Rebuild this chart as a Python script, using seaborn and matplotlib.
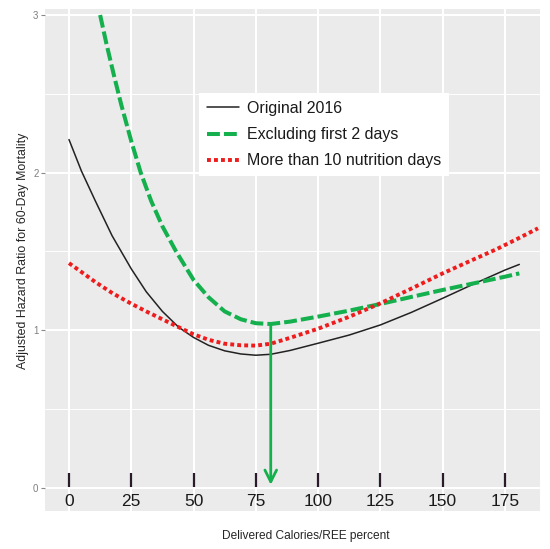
import matplotlib
matplotlib.use("Agg")
import matplotlib.pyplot as plt
import seaborn as sns
import pandas as pd

# ---- data ----
x_original = [0, 5, 10.6, 17.3, 25, 31, 37.5, 44, 50, 56, 62.5, 69, 75, 81, 88.7,
              100, 112.5, 125, 137.5, 150, 162.5, 175, 180.8]
y_original = [2.21, 2.01, 1.82, 1.60, 1.39, 1.245, 1.12, 1.02, 0.955, 0.905, 0.87, 0.85,
              0.842, 0.848, 0.872, 0.918, 0.97, 1.034, 1.114, 1.203, 1.294, 1.382, 1.418]

x_excluding = [12.5, 15, 18, 21, 25, 28.8, 33, 37.5, 43, 50, 56, 62.5, 69, 75, 81, 88.7,
               100, 112.5, 125, 137.5, 150, 162.5, 175, 180.8]
y_excluding = [3.0, 2.82, 2.62, 2.43, 2.2, 2.0, 1.82, 1.66, 1.5, 1.32, 1.21, 1.12, 1.07,
               1.045, 1.04, 1.055, 1.087, 1.125, 1.167, 1.212, 1.256, 1.298, 1.34, 1.361]

x_more10 = [0, 5, 10.6, 17.5, 25, 31, 37.5, 44, 50, 56, 62.5, 69, 75, 81, 88.7, 100,
            112.5, 125, 137.5, 150, 162.5, 171.7, 180, 188.3]
y_more10 = [1.426, 1.37, 1.306, 1.235, 1.169, 1.12, 1.07, 1.02, 0.975, 0.94, 0.915, 0.905,
            0.903, 0.915, 0.952, 1.01, 1.086, 1.171, 1.265, 1.361, 1.45, 1.515, 1.58, 1.647]

series_labels = ["Original 2016", "Excluding first 2 days", "More than 10 nutrition days"]
xtick_values = [0, 25, 50, 75, 100, 125, 150, 175]
ytick_values = [0, 1, 2, 3]
ytick_minor = [0.5, 1.5, 2.5]
optimal_x = 81
optimal_y = 1.04

x_title = "Delivered Calories/REE percent"
y_title = "Adjusted Hazard Ratio for 60-Day Mortality"

# ---- figure ----
sns.set_theme(style="darkgrid")
plt.rcParams["font.family"] = ["Liberation Sans", "DejaVu Sans"]

W, H = 550, 549
fig = plt.figure(figsize=(5.5, 5.49), dpi=100)
fig.patch.set_facecolor("white")
ax = fig.add_axes([45 / W, 1 - 511 / H, 495 / W, 502 / H])
ax.set_facecolor("#EBEBEB")

GREEN = "#14B04E"
RED = "#EE1C1C"

df_o = pd.DataFrame({"x": x_original, "y": y_original})
df_e = pd.DataFrame({"x": x_excluding, "y": y_excluding})
df_m = pd.DataFrame({"x": x_more10, "y": y_more10})

sns.lineplot(data=df_o, x="x", y="y", ax=ax, color="#222222", lw=1.1,
             label=series_labels[0], sort=False, estimator=None, zorder=3)
sns.lineplot(data=df_e, x="x", y="y", ax=ax, color=GREEN, lw=2.9,
             ls=(0, (3.2, 1.0)), dash_capstyle="butt",
             label=series_labels[1], sort=False, estimator=None, zorder=4)
sns.lineplot(data=df_m, x="x", y="y", ax=ax, color=RED, lw=2.8,
             ls=(0, (1, 0.8)), dash_capstyle="butt",
             label=series_labels[2], sort=False, estimator=None, zorder=5)

# arrow marking optimum
ax.annotate("", xy=(optimal_x, 0.02), xytext=(optimal_x, optimal_y),
            arrowprops=dict(arrowstyle="->,head_length=0.6,head_width=0.3",
                            color=GREEN, lw=2.0, mutation_scale=14,
                            shrinkA=0, shrinkB=0), zorder=6)

ax.set_xlim(-9.63, 189.1)
ax.set_ylim(-0.146, 3.038)

# grid
ax.set_xticks(xtick_values)
ax.set_yticks(ytick_values)
ax.set_yticks(ytick_minor, minor=True)
ax.grid(True, which="major", color="white", lw=1.5)
ax.grid(True, which="minor", axis="y", color="white", lw=0.7)
ax.grid(False, which="minor", axis="x")
ax.tick_params(axis="x", which="both", length=0, labelbottom=False)
ax.tick_params(axis="y", which="major", length=3.2, width=0.8, color="#888888",
               labelsize=7, labelcolor="#7F7F7F", pad=1.5, left=True)
ax.tick_params(axis="y", which="minor", length=0)
for s in ax.spines.values():
    s.set_visible(False)
ax.set_xlabel("")
ax.set_ylabel("")

# inner x ticks and labels
ax.vlines(xtick_values, 0.006, 0.095, color="#2A1A2A", lw=1.6, zorder=2)
for v in xtick_values:
    ax.text(v, -0.087, str(v), ha="center", va="center", fontsize=12.5,
            color="#1A1A1A", zorder=2)

# axis titles
fig.text(306 / W, 1 - 536 / H, x_title, ha="center", va="center",
         fontsize=8.6, color="#262626")
fig.text(23 / W, 1 - 251 / H, y_title, ha="center", va="center", rotation=90,
         fontsize=8.9, color="#262626")

# legend
leg = ax.legend(loc="upper left", bbox_to_anchor=((199 - 45) / 495, (511 - 93) / 502),
                borderaxespad=0, frameon=True, fancybox=False, framealpha=1,
                facecolor="white", edgecolor="none", fontsize=11.5,
                handlelength=2.0, handletextpad=0.5, labelspacing=0.7,
                borderpad=0.5)
for t in leg.get_texts():
    t.set_color("#1A1A1A")

fig.savefig("out.png", dpi=100, facecolor="white")
